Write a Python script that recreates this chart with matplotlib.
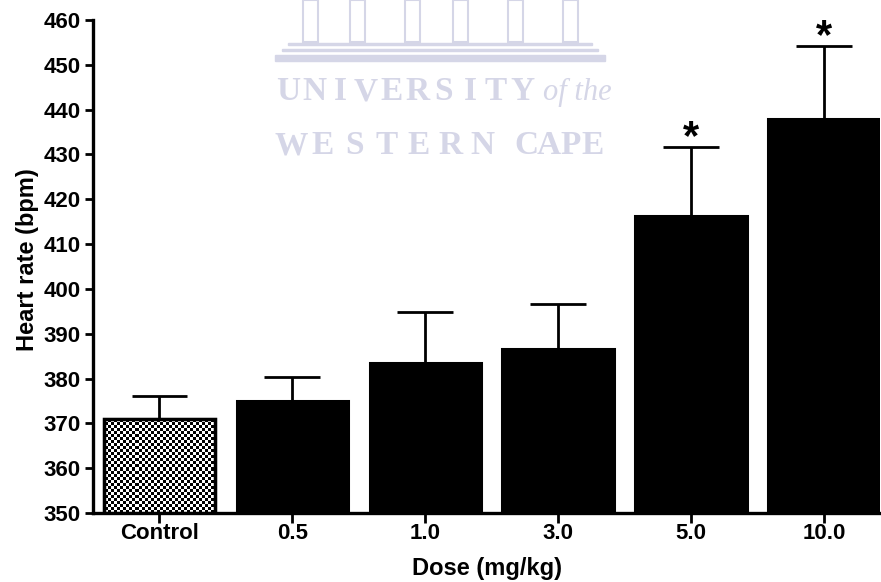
import numpy as np
import matplotlib.pyplot as plt
from matplotlib.patches import Rectangle

plt.rcParams['font.family'] = ['Liberation Sans', 'DejaVu Sans']
plt.rcParams['font.weight'] = 'bold'

doses = ['Control', '0.5', '1.0', '3.0', '5.0', '10.0']
heart_rate = [371.0, 375.0, 383.5, 386.6, 416.3, 437.8]
sem = [5.2, 5.3, 11.3, 10.0, 15.4, 16.3]
significant = [False, False, False, False, True, True]
yticks = list(range(350, 461, 10))

fig = plt.figure(figsize=(8.81, 5.82), dpi=100)
ax = fig.add_axes([93 / 881, 69 / 582, 787 / 881, 493 / 582])

x = np.arange(len(doses))
width = 0.84
bars = ax.bar(x, np.array(heart_rate) - 350, width, bottom=350, color='black',
              edgecolor='black', linewidth=2.2, zorder=3)

# control bar: white with a fine checkerboard fill
ctrl = bars[0]
ctrl.set_facecolor('white')
ax.set_xlim(-0.5, 5.42)
ax.set_ylim(350, 460)
nx, ny = 262, 164
checker = (np.indices((ny, nx)).sum(axis=0) % 2).astype(float)
img = ax.imshow(checker, cmap='gray', extent=(-0.5, 5.42, 350, 460),
                interpolation='nearest', aspect='auto', zorder=3.5)
img.set_clip_path(ctrl)
edge = Rectangle(ctrl.get_xy(), ctrl.get_width(), ctrl.get_height(),
                 fill=False, edgecolor='black', linewidth=2.5, zorder=4)
ax.add_patch(edge)

# upper error bars only
tops = np.array(heart_rate) + np.array(sem)
ax.vlines(x, heart_rate, tops, color='black', linewidth=2, zorder=2)
ax.hlines(tops, x - 0.21, x + 0.21, color='black', linewidth=2, zorder=2)

for xi, t, sig in zip(x, tops, significant):
    if sig:
        ax.annotate('*', (xi, t), xytext=(0, -1.5), textcoords='offset points',
                    ha='center', va='baseline', fontsize=30, fontweight='bold')

ax.set_xticks(x)
ax.set_xticklabels(doses, fontsize=16, fontweight='bold')
ax.set_yticks(yticks)
ax.set_yticklabels([str(v) for v in yticks], fontsize=16, fontweight='bold')
ax.tick_params(axis='both', width=2, length=6, pad=3)
ax.tick_params(axis='x', length=7, pad=0.5)
for side in ['top', 'right']:
    ax.spines[side].set_visible(False)
for side in ['left', 'bottom']:
    ax.spines[side].set_linewidth(2.4)

ax.set_xlabel('Dose (mg/kg)', fontsize=17, fontweight='bold', labelpad=9)
ax.set_ylabel('Heart rate (bpm)', fontsize=17, fontweight='bold')
ax.yaxis.set_label_coords(-0.068, 0.513)

# faint university watermark behind the plot
wm = '#d5d6e7'
for cx in [303, 350, 405, 453, 508, 563]:
    fig.add_artist(Rectangle((cx / 881, 1 - 42 / 582), 15 / 881, 42 / 582,
                             transform=fig.transFigure, fill=False,
                             edgecolor=wm, linewidth=1.5, zorder=0))
for y0, x0, x1, h in [(43, 288, 592, 2), (49, 282, 598, 2), (55, 275, 605, 6)]:
    fig.add_artist(Rectangle((x0 / 881, 1 - (y0 + h) / 582), (x1 - x0) / 881,
                             h / 582, transform=fig.transFigure, color=wm,
                             zorder=0))


def spaced(word, x0, x1, y, **kw):
    # spread the letters of a word evenly between two x positions
    n = len(word)
    step = (x1 - x0) / n
    for i, ch in enumerate(word):
        fig.text((x0 + step * (i + 0.5)) / 881, 1 - y / 582, ch, color=wm,
                 family='Liberation Serif', fontsize=24, ha='center',
                 va='center', zorder=0, **kw)


spaced('UNIVERSITY', 275, 535, 92, fontweight='bold')
fig.text(543 / 881, 1 - 92 / 582, 'of the', color=wm, family='Liberation Serif',
         fontsize=22, style='italic', fontweight='normal', va='center',
         ha='left', zorder=0)
spaced('WESTERN', 275, 498, 146, fontweight='bold')
spaced('CAPE', 515, 604, 146, fontweight='bold')

ax.patch.set_alpha(0)
fig.savefig('out.png', dpi=100)
